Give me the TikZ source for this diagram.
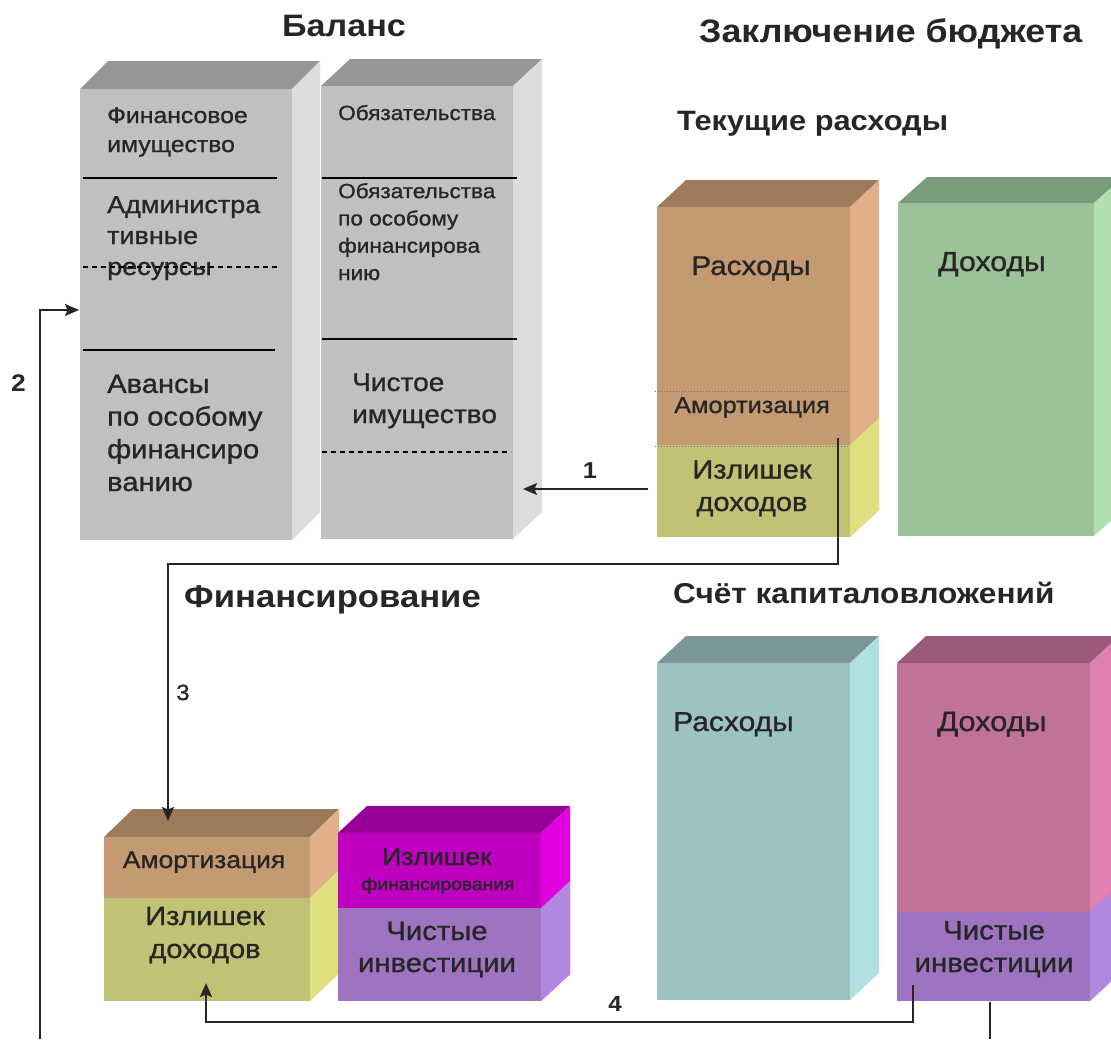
\documentclass[tikz,border=0pt]{standalone}
\usepackage{fontspec}
\setmainfont{Liberation Sans}[FakeStretch=1.1]
\newfontfamily\bodyf{Liberation Sans}[FakeStretch=1.1, FakeBold=1.0]
\usetikzlibrary{arrows.meta}
\definecolor{tc}{HTML}{262626}
\definecolor{gF}{HTML}{C0C0C0}\definecolor{gT}{HTML}{969696}\definecolor{gS}{HTML}{DCDCDC}
\definecolor{tF}{HTML}{C49A72}\definecolor{tT}{HTML}{9C7A5A}\definecolor{tS}{HTML}{E0B088}
\definecolor{oF}{HTML}{C2C274}\definecolor{oS}{HTML}{E0E080}
\definecolor{grF}{HTML}{9CC29A}\definecolor{grT}{HTML}{7A9A7C}\definecolor{grS}{HTML}{B0E0B0}
\definecolor{teF}{HTML}{9CC2C2}\definecolor{teT}{HTML}{7A9696}\definecolor{teS}{HTML}{B0E0E0}
\definecolor{pF}{HTML}{C07298}\definecolor{pT}{HTML}{9A5A7A}\definecolor{pS}{HTML}{E080B0}
\definecolor{vF}{HTML}{9E74C0}\definecolor{vS}{HTML}{B088E0}
\definecolor{mF}{HTML}{C000C0}\definecolor{mT}{HTML}{960096}\definecolor{mS}{HTML}{E000E0}
\newcommand\cuboid[9]{%
 \fill[#8] (#1,#2) -- (#1+#5,#2-#6) -- (#3+#5,#2-#6) -- (#3,#2) -- cycle;
 \fill[#9] (#3,#2) -- (#3+#5,#2-#6) -- (#3+#5,#4-#6) -- (#3,#4) -- cycle;
 \fill[#7] (#1,#2) rectangle (#3,#4);}
\newcommand\lowpart[8]{% x1 ysplit x2 y2 dx dy front side
 \fill[#7] (#1,#2) rectangle (#3,#4);
 \fill[#8] (#3,#2) -- (#3+#5,#2-#6) -- (#3+#5,#4-#6) -- (#3,#4) -- cycle;}
\newcommand\fs[2]{\bodyf\fontsize{#1}{#2}\selectfont}
\newcommand\fb[1]{\bfseries\fontsize{#1}{#1}\selectfont}
\tikzset{
 txt/.style={text=tc, inner sep=0pt},
 conn/.style={draw=tc, line width=1.8pt},
 arr/.style={conn, -{Stealth[length=14pt,width=12pt,inset=2.5pt]}},
 sepline/.style={draw=black, line width=1.5pt},
 dashline/.style={draw=black, line width=1.1pt, dash pattern=on 5pt off 4pt},
 dotline/.style={draw=black!55, line width=1pt, dotted},
}
\begin{document}
\begin{tikzpicture}[x=1pt,y=-1pt]
\useasboundingbox (0,0) rectangle (1111,1039);
\clip (0,0) rectangle (1111,1039);
% ---------- Balance ----------
\cuboid{80}{89}{292}{540}{28}{28}{gF}{gT}{gS}
\cuboid{321}{86}{513}{539}{29}{27}{gF}{gT}{gS}
\draw[sepline] (83,178) -- (277,178);
\draw[sepline] (83,350) -- (275,350);
\draw[sepline] (322,178) -- (517,178);
\draw[sepline] (322,339) -- (517,339);
\draw[dashline] (322,452) -- (511,452);
\node[txt, font=\fb{31}, anchor=base west] (tbal) at (282,36) {Баланс};
\node[txt, font=\fs{22.5}{29}, anchor=base west, align=left] (fa) at (107,152) {Финансовое\\имущество};
\node[txt, font=\fs{24.5}{31}, anchor=base west, align=left] (ar) at (107,275) {Администра\\тивные\\ресурсы};
\draw[dashline] (83,267) -- (280,267);
\node[txt, font=\fs{26.5}{32.7}, anchor=base west, align=left] (av) at (107,491) {Авансы\\по особому\\финансиро\\ванию};
\node[txt, font=\fs{20.5}{27}, anchor=base west] (ob) at (338,120) {Обязательства};
\node[txt, font=\fs{20.5}{27.3}, anchor=base west, align=left] (obf) at (338,280) {Обязательства\\по особому\\финансирова\\нию};
\node[txt, font=\fs{25.5}{32}, anchor=base west, align=left] (ci) at (352,423) {Чистое\\имущество};
% ---------- Budget ----------
\node[txt, font=\fb{32.5}, anchor=base west] (tzb) at (699,42) {Заключение бюджета};
\node[txt, font=\fb{28}, anchor=base west] (ttr) at (677,130) {Текущие расходы};
\cuboid{657}{207}{850}{537}{29}{27}{tF}{tT}{tS}
\lowpart{657}{445}{850}{537}{29}{27}{oF}{oS}
\draw[dotline] (655,391) -- (848,391);
\draw[dotline] (655,446) -- (848,446);
\cuboid{898}{203}{1094}{536}{29}{26}{grF}{grT}{grS}
\node[txt, font=\fs{27}{30}, anchor=base] (r1) at (751,275) {Расходы};
\node[txt, font=\fs{23}{27}, anchor=base] (am1) at (752,413) {Амортизация};
\node[txt, font=\fs{26.4}{32.5}, anchor=base, align=center] (iz1) at (752,511) {Излишек\\доходов};
\node[txt, font=\fs{27.5}{30}, anchor=base] (d1) at (992,271) {Доходы};
% ---------- Financing ----------
\node[txt, font=\fb{31.5}, anchor=base west] (tfin) at (184,607) {Финансирование};
\cuboid{104}{837}{310}{1001}{29}{28}{tF}{tT}{tS}
\lowpart{104}{898}{310}{1001}{29}{28}{oF}{oS}
\cuboid{338}{833}{541}{1001}{29}{27}{mF}{mT}{mS}
\lowpart{338}{908}{541}{1001}{29}{27}{vF}{vS}
\node[txt, font=\fs{24}{27}, anchor=base] (am2) at (204,868) {Амортизация};
\node[txt, font=\fs{26.5}{33}, anchor=base, align=center] (iz2) at (205,958) {Излишек\\доходов};
\node[txt, font=\fs{24.3}{27}, anchor=base] (izf) at (437,865) {Излишек};
\node[txt, font=\fs{17.5}{20}, anchor=base] (izf2) at (438,890) {финансирования};
\node[txt, font=\fs{26.6}{32}, anchor=base, align=center] (ni1) at (437,972) {Чистые\\инвестиции};
% ---------- Capital account ----------
\node[txt, font=\fb{28.7}, anchor=base west] (tsk) at (673,603) {Счёт капиталовложений};
\cuboid{657}{663}{850}{1000}{29}{27}{teF}{teT}{teS}
\cuboid{897}{663}{1090}{1001}{29}{27}{pF}{pT}{pS}
\lowpart{897}{912}{1090}{1001}{29}{27}{vF}{vS}
\node[txt, font=\fs{27.3}{30}, anchor=base west] (r2) at (673,731) {Расходы};
\node[txt, font=\fs{27.9}{30}, anchor=base] (d2) at (992,731) {Доходы};
\node[txt, font=\fs{26.8}{32.5}, anchor=base, align=center] (ni2) at (994,972) {Чистые\\инвестиции};
% ---------- Connectors ----------
\coordinate (s1) at (648,489);
\coordinate (e1) at (523,489);
\coordinate (s3) at (838,438);
\coordinate (e3) at (168,821);
\coordinate (s2) at (40,1039);
\coordinate (e2) at (79,310);
\coordinate (s4) at (913,985);
\coordinate (e4) at (206,983);
\coordinate (s5) at (990,1002);
\coordinate (e5) at (990,1039);
\draw[arr] (s1) -- (e1);
\draw[arr] (s3) |- (168,564) -- (e3);
\draw[arr] (s2) |- (e2);
\draw[arr] (s4) -- (913,1022) -| (e4);
\draw[conn] (s5) -- (e5);
\node[txt, font=\fb{23}, anchor=base] (n1) at (590,478) {1};
\node[txt, font=\fb{24}, anchor=base west] (n2) at (11,391) {2};
\node[txt, font=\fs{22}{24}, anchor=base west] (n3) at (176,700) {3};
\node[txt, font=\fb{22}, anchor=base] (n4) at (615,1011) {4};
\end{tikzpicture}
\end{document}
